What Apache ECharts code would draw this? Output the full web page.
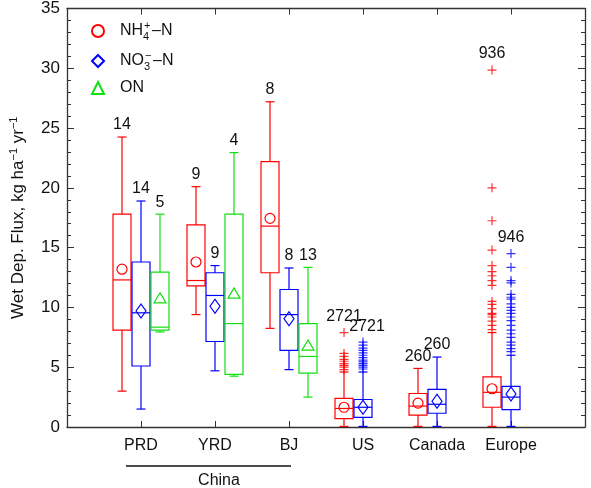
<!DOCTYPE html>
<html>
<head>
<meta charset="utf-8">
<script src="https://cdn.jsdelivr.net/npm/echarts@6/dist/echarts.min.js"></script>
<style>
  html, body { margin: 0; padding: 0; background: #fff; }
  #chart { width: 591px; height: 488px; }
</style>
</head>
<body>
<div id="chart"></div>
<script>
var categories = ['PRD', 'YRD', 'BJ', 'US', 'Canada', 'Europe'];

// [low whisker, q1, median, q3, high whisker]
var nh4Box = [[3.0, 8.1, 12.3, 17.8, 24.25], [9.4, 11.8, 12.25, 16.9, 20.1], [8.25, 12.9, 16.8, 22.2, 27.2],
              [0.05, 0.7, 1.55, 2.4, 4.6], [0.05, 1.0, 1.75, 2.8, 4.9], [0.05, 1.65, 2.9, 4.2, 7.9]];
var no3Box = [[1.5, 5.1, 9.55, 13.8, 18.9], [4.7, 7.15, 11.0, 12.9, 13.5], [4.8, 6.4, 9.4, 11.5, 13.3],
              [0.05, 0.8, 1.65, 2.3, 4.6], [0.05, 1.15, 1.9, 3.15, 5.85], [0.05, 1.45, 2.5, 3.4, 6.0]];
var onBox  = [[7.95, 8.1, 8.35, 12.95, 17.8], [4.25, 4.4, 8.65, 17.8, 22.95], [2.5, 4.5, 5.9, 8.65, 13.35],
              null, null, null];

var nh4Mean = [13.2, 13.8, 17.45, 1.65, 2.0, 3.2];
var no3Mean = [9.7, 10.1, 9.05, 1.65, 2.15, 2.75];
var onMean  = [10.8, 11.2, 6.85, null, null, null];

var nh4Count = [14, 9, 8, 2721, 260, 936];
var no3Count = [14, 9, 8, 2721, 260, 946];
var onCount  = [5, 4, 13, null, null, null];

// outliers per category (only US and Europe have them)
var nh4Out = [[], [], [],
  [7.9, 6.15, 5.9, 5.65, 5.5, 5.3, 5.15, 5.0, 4.8],
  [],
  [29.85, 20.0, 17.25, 14.8, 13.5, 13.0, 12.65, 12.25, 11.85, 10.5, 10.25, 9.9, 9.5, 9.4, 9.2, 8.85, 8.5, 8.15]];
var no3Out = [[], [], [],
  [7.1, 6.85, 6.6, 6.4, 6.2, 6.0, 5.8, 5.6, 5.45, 5.3, 5.15, 5.0, 4.85],
  [],
  [14.5, 13.35, 12.25, 12.05, 11.1, 10.85, 10.7, 10.3, 10.0, 9.75, 9.5, 9.2, 8.9, 8.5, 8.1, 7.8, 7.5, 7.1, 6.85, 6.55, 6.3]];

var RED = '#ff0000', BLUE = '#0000ff', GREEN = '#11e011';
var FONT = 'Liberation Sans, Arial, Helvetica, sans-serif';

var chart = echarts.init(document.getElementById('chart'));

// rows for the custom box series: [x, low, q1, med, q3, high, top, count, hasOutlier]
function boxRows(boxes, counts, outs) {
    var rows = [];
    boxes.forEach(function (b, i) {
        if (!b) return;
        var o = outs ? outs[i] : [];
        var top = b[4], hasOut = 0;
        o.forEach(function (v) { if (v > top) { top = v; hasOut = 1; } });
        rows.push([i + 1].concat(b, [top, counts[i], hasOut]));
    });
    return rows;
}

function boxRenderer(offset, color, labelDx) {
    return function (params, api) {
        var x = api.value(0);
        var y = function (dim) { return api.coord([x, api.value(dim)])[1]; };
        var cx = api.coord([x, 0])[0] + offset;
        var hw = 9, cw = 4.5;
        var low = y(1), q1 = y(2), med = y(3), q3 = y(4), high = y(5);
        var top = y(6) - 4 - (api.value(8) ? 4 : 0);
        var st = { stroke: color, lineWidth: 1.2, fill: null };
        return {
            type: 'group',
            children: [
                { type: 'line', shape: { x1: cx, y1: q3, x2: cx, y2: high }, style: st },
                { type: 'line', shape: { x1: cx, y1: q1, x2: cx, y2: low }, style: st },
                { type: 'line', shape: { x1: cx - cw, y1: high, x2: cx + cw, y2: high }, style: st },
                { type: 'line', shape: { x1: cx - cw, y1: low, x2: cx + cw, y2: low }, style: st },
                { type: 'rect', shape: { x: cx - hw, y: q3, width: hw * 2, height: q1 - q3 }, style: st },
                { type: 'line', shape: { x1: cx - hw, y1: med, x2: cx + hw, y2: med }, style: st },
                { type: 'text', x: cx + (labelDx[params.dataIndex] || 0), y: top,
                  style: { text: String(api.value(7)), fill: '#111', font: '16px ' + FONT,
                           align: 'center', verticalAlign: 'bottom' } }
            ]
        };
    };
}

function meanData(arr) {
    var d = [];
    arr.forEach(function (v, i) { if (v != null) d.push([i + 1, v]); });
    return d;
}
function outData(arr) {
    var d = [];
    arr.forEach(function (list, i) { list.forEach(function (v) { d.push([i + 1, v]); }); });
    return d;
}

var plus = 'path://M0,5L10,5M5,0L5,10';
var hollow = 'rgba(0,0,0,0)';

var axisLine = { show: true, onZero: false, lineStyle: { color: '#333', width: 1.3 } };
var tick = { inside: true, length: 7, lineStyle: { color: '#333' } };
var minor = { show: true, splitNumber: 5, length: 4, lineStyle: { color: '#333' } };

var option = {
    animation: false,
    textStyle: { fontFamily: FONT },
    grid: { left: 57, right: 6, top: 7, bottom: 61 },
    legend: {
        orient: 'vertical',
        left: 86, top: 15,
        itemWidth: 12, itemHeight: 12, itemGap: 8,
        data: ['NH4', 'NO3', 'ON'],
        formatter: function (name) {
            if (name === 'NH4') return '{gap| }{t|NH}{sub|4}{sup|+}{t|–N}';
            if (name === 'NO3') return '{gap| }{t|NO}{sub|3}{sup|−}{t|–N}';
            return '{gap| }{t|ON}';
        },
        textStyle: {
            rich: {
                gap: { width: 11 },
                t: { fontSize: 16, color: '#111', lineHeight: 22, fontFamily: FONT },
                sub: { fontSize: 11, color: '#111', verticalAlign: 'bottom', width: 1, fontFamily: FONT },
                sup: { fontSize: 11, color: '#111', verticalAlign: 'top', width: 8, fontFamily: FONT }
            }
        }
    },
    xAxis: [{
        type: 'value', min: 0, max: 7, interval: 1, position: 'bottom',
        axisLine: axisLine,
        axisTick: { inside: true, length: 6, lineStyle: { color: '#333' } },
        axisLabel: { fontSize: 16, color: '#111', margin: 11,
                     formatter: function (v) { return categories[v - 1] || ''; } },
        splitLine: { show: false }
    }, {
        type: 'value', min: 0, max: 7, interval: 1, position: 'top',
        axisLine: axisLine,
        axisTick: { inside: true, length: 6, lineStyle: { color: '#333' } },
        axisLabel: { show: false },
        splitLine: { show: false }
    }],
    yAxis: [{
        type: 'value', min: 0, max: 35, interval: 5,
        axisLine: axisLine,
        axisTick: tick,
        minorTick: minor,
        axisLabel: { fontSize: 17, color: '#111', margin: 7 },
        splitLine: { show: false },
        name: '{t|Wet Dep. Flux, kg ha}{sup|−1}{t| yr}{sup|−1}',
        nameLocation: 'middle', nameGap: 39,
        nameTextStyle: {
            rich: {
                t: { fontSize: 17, color: '#111', fontFamily: FONT, lineHeight: 20 },
                sup: { fontSize: 11, color: '#111', fontFamily: FONT, verticalAlign: 'top' }
            }
        }
    }, {
        type: 'value', min: 0, max: 35, interval: 5, position: 'right',
        axisLine: axisLine,
        axisTick: tick,
        minorTick: minor,
        axisLabel: { show: false },
        splitLine: { show: false }
    }],
    series: [
        { type: 'custom', renderItem: boxRenderer(-19, RED, {}), data: boxRows(nh4Box, nh4Count, nh4Out), z: 2 },
        { type: 'custom', renderItem: boxRenderer(0, BLUE, { 3: 4 }), data: boxRows(no3Box, no3Count, no3Out), z: 2 },
        { type: 'custom', renderItem: boxRenderer(19, GREEN, {}), data: boxRows(onBox, onCount, null), z: 2 },
        { type: 'scatter', data: outData(nh4Out), symbol: plus, symbolSize: 9, symbolOffset: [-19, 0],
          itemStyle: { color: hollow, borderColor: RED, borderWidth: 1.2 }, z: 3 },
        { type: 'scatter', data: outData(no3Out), symbol: plus, symbolSize: 9, symbolOffset: [0, 0],
          itemStyle: { color: hollow, borderColor: BLUE, borderWidth: 1.2 }, z: 3 },
        { name: 'NH4', type: 'scatter', data: meanData(nh4Mean), symbol: 'circle', symbolSize: 10,
          symbolOffset: [-19, 0], itemStyle: { color: hollow, borderColor: RED, borderWidth: 1.2, opacity: 1 }, z: 4 },
        { name: 'NO3', type: 'scatter', data: meanData(no3Mean), symbol: 'diamond', symbolSize: [10, 14],
          symbolOffset: [0, 0], itemStyle: { color: hollow, borderColor: BLUE, borderWidth: 1.2, opacity: 1 }, z: 4 },
        { name: 'ON', type: 'scatter', data: meanData(onMean), symbol: 'triangle', symbolSize: [12, 10],
          symbolOffset: [19, 0], itemStyle: { color: hollow, borderColor: GREEN, borderWidth: 1.2, opacity: 1 }, z: 4 }
    ]
};
chart.setOption(option);

// "China" bracket under the first three categories
var xPRD = chart.convertToPixel({ xAxisIndex: 0 }, 1);
var xYRD = chart.convertToPixel({ xAxisIndex: 0 }, 2);
var xBJ = chart.convertToPixel({ xAxisIndex: 0 }, 3);
chart.setOption({
    graphic: [
        { type: 'line', shape: { x1: xPRD - 15, y1: 466, x2: xBJ + 2, y2: 466 },
          style: { stroke: '#111', lineWidth: 1.5 } },
        { type: 'text', x: xYRD + 4, y: 481,
          style: { text: 'China', font: '16px ' + FONT, fill: '#111', align: 'center', verticalAlign: 'middle' } }
    ]
});
</script>
</body>
</html>
